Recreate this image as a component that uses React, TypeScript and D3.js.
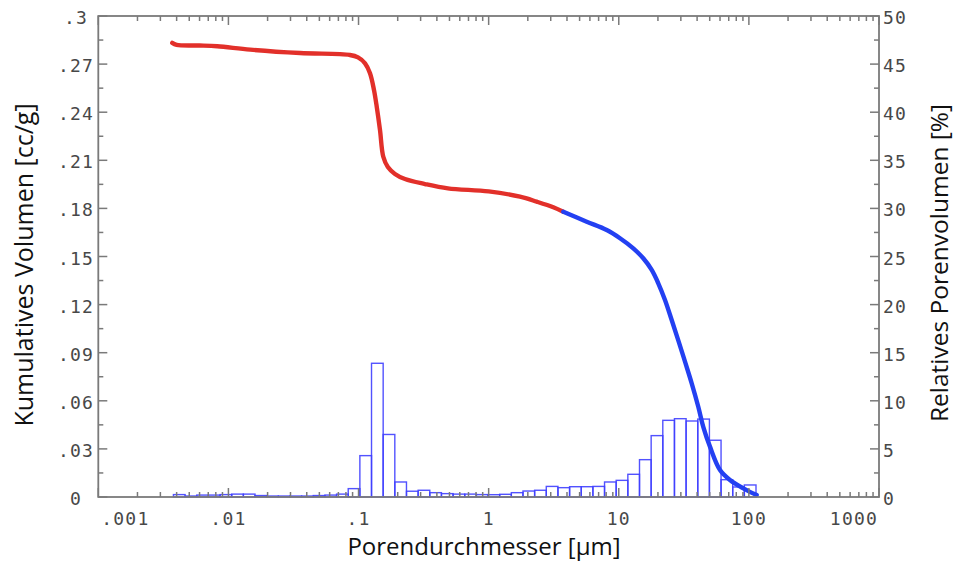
import React from "react";
import * as d3 from "d3";

// Cumulative intrusion curve (diameter µm, cumulative volume cc/g)
const redDiameter = [0.0037, 0.0040, 0.0060, 0.0082, 0.0147, 0.0355, 0.0859, 0.0991, 0.1122, 0.1225, 0.1315, 0.138, 0.1462, 0.155, 0.168, 0.1905, 0.2275, 0.3239, 0.486, 1.0, 1.741, 2.34, 3.14, 3.746];
const redVolume = [0.2832, 0.2820, 0.2816, 0.2811, 0.2790, 0.2769, 0.2757, 0.2742, 0.2705, 0.2643, 0.2538, 0.2434, 0.2289, 0.2122, 0.2058, 0.2015, 0.1983, 0.1952, 0.1925, 0.1906, 0.1873, 0.1842, 0.1807, 0.1779];
const blueDiameter = [3.746, 5.67, 8.08, 10.22, 12.93, 15.43, 17.91, 20.12, 22.66, 25.51, 28.67, 32.29, 36.35, 40.84, 44.61, 50.23, 59.97, 71.56, 90.6, 114.8];
const blueVolume = [0.1779, 0.1717, 0.1665, 0.1614, 0.1551, 0.1489, 0.1416, 0.1333, 0.1229, 0.1104, 0.0977, 0.0844, 0.0709, 0.0563, 0.0438, 0.0314, 0.0168, 0.0106, 0.0054, 0.0012];

// Histogram: bin centre diameters (µm) and relative pore volume (%)
const binDiameter = [
  0.00419, 0.00515, 0.00633, 0.00778, 0.00956, 0.01175, 0.01444, 0.01775, 0.02182, 0.02681,
  0.03295, 0.0405, 0.04977, 0.06115, 0.07516, 0.09238, 0.1135, 0.1395, 0.1714, 0.2107,
  0.2589, 0.3183, 0.3912, 0.4807, 0.5908, 0.7261, 0.8923, 1.0965, 1.3479, 1.6561,
  2.0354, 2.5016, 3.0737, 3.7784, 4.643, 5.7068, 7.0146, 8.6158, 10.593, 13.018,
  16.001, 19.665, 24.161, 29.703, 36.502, 44.864, 55.129, 67.735, 83.258, 102.31,
];
const binPercent = [
  0.25, 0.1, 0.2, 0.2, 0.25, 0.3, 0.3, 0.15, 0.1, 0.1,
  0.1, 0.1, 0.15, 0.2, 0.3, 0.87, 4.3, 13.9, 6.5, 1.56,
  0.6, 0.7, 0.45, 0.35, 0.3, 0.3, 0.25, 0.24, 0.28, 0.45,
  0.62, 0.7, 1.1, 0.97, 1.07, 1.07, 1.1, 1.56, 1.73, 2.36,
  3.88, 6.38, 7.97, 8.14, 7.9, 8.1, 5.9, 1.8, 1.04, 1.25,
];

const xTickValues = [0.001, 0.01, 0.1, 1, 10, 100, 1000];
const xTickLabels = [".001", ".01", ".1", "1", "10", "100", "1000"];
const leftTickValues = [0, 0.03, 0.06, 0.09, 0.12, 0.15, 0.18, 0.21, 0.24, 0.27, 0.3];
const leftTickLabels = ["0", ".03", ".06", ".09", ".12", ".15", ".18", ".21", ".24", ".27", ".3"];
const rightTickValues = [0, 5, 10, 15, 20, 25, 30, 35, 40, 45, 50];

const W = 957, H = 562;
const L = 98.3, R = 879, T = 16, B = 497;
const AX = "#7a7a7a";
const TXT = "#484848";
const MONO = "'DejaVu Sans Mono', monospace";
const SANS = "'Open Sans', 'Noto Sans', sans-serif";

export default function App() {
  const x = d3.scaleLog().domain([0.001, 1000]).range([L, R]);
  const yL = d3.scaleLinear().domain([0, 0.3]).range([B, T]);
  const yR = d3.scaleLinear().domain([0, 50]).range([B, T]);

  const line = d3
    .line<[number, number]>()
    .x((p) => x(p[0]))
    .y((p) => yL(p[1]))
    .curve(d3.curveCatmullRom.alpha(0.5));
  const redPts = redDiameter.map((d, i) => [d, redVolume[i]] as [number, number]);
  const bluePts = blueDiameter.map((d, i) => [d, blueVolume[i]] as [number, number]);

  // bar edges: geometric midpoints between neighbouring bin centres
  const logs = binDiameter.map((d) => Math.log10(d));
  const edges = logs.map((lg, i) => {
    const prev = i > 0 ? logs[i - 1] : lg - (logs[1] - logs[0]);
    return (lg + prev) / 2;
  });
  const lastEdge = logs[logs.length - 1] + (logs[logs.length - 1] - logs[logs.length - 2]) / 2;

  const minor: number[] = [];
  for (let e = -3; e < 3; e++) for (let m = 2; m <= 9; m++) minor.push(m * Math.pow(10, e));
  const yMinorL = d3.range(0.015, 0.3, 0.03);

  return (
    <svg width={W} height={H} style={{ position: "absolute", left: 0, top: 0, background: "#fff" }}>
      <rect x={0} y={0} width={W} height={H} fill="#fff" />
      {/* histogram */}
      <g>
        {binPercent.map((p, i) => {
          const x0 = x(Math.pow(10, edges[i]));
          const x1 = x(Math.pow(10, i < binPercent.length - 1 ? edges[i + 1] : lastEdge));
          return (
            <rect
              key={i}
              x={x0}
              y={yR(p)}
              width={x1 - x0}
              height={B - yR(p)}
              fill="none"
              stroke="#3f3fff"
              strokeOpacity={0.9}
              strokeWidth={1.4}
            />
          );
        })}
      </g>
      {/* curves */}
      <path d={line(redPts) ?? ""} fill="none" stroke="#e2302a" strokeWidth={4.4} strokeLinecap="round" strokeLinejoin="round" />
      <path d={line(bluePts) ?? ""} fill="none" stroke="#2340f2" strokeWidth={4.4} strokeLinecap="round" strokeLinejoin="round" />

      {/* frame */}
      <rect x={L} y={T} width={R - L} height={B - T} fill="none" stroke={AX} strokeWidth={1.8} />

      {/* x ticks (bottom and top) */}
      {xTickValues.map((v) => (
        <g key={"xt" + v}>
          <line x1={x(v)} x2={x(v)} y1={B} y2={B - 9} stroke={AX} strokeWidth={1.5} />
          <line x1={x(v)} x2={x(v)} y1={T} y2={T + 9} stroke={AX} strokeWidth={1.5} />
        </g>
      ))}
      {minor.map((v) => (
        <g key={"xm" + v}>
          <line x1={x(v)} x2={x(v)} y1={B} y2={B - 5} stroke={AX} strokeWidth={1.5} />
          <line x1={x(v)} x2={x(v)} y1={T} y2={T + 5} stroke={AX} strokeWidth={1.5} />
        </g>
      ))}
      {xTickValues.map((v, i) => {
        const first = i === 0;
        const last = i === xTickValues.length - 1;
        return (
          <text
            key={"xl" + v}
            x={first ? x(v) + 3 : last ? x(v) - 1 : x(v)}
            y={525}
            textAnchor={first ? "start" : last ? "end" : "middle"}
            fontFamily={MONO}
            fontSize={18}
            letterSpacing={1.2}
            fill={TXT}
          >
            {xTickLabels[i]}
          </text>
        );
      })}

      {/* left y ticks */}
      {leftTickValues.map((v, i) => (
        <g key={"yl" + v}>
          <line x1={L} x2={L + 9} y1={yL(v)} y2={yL(v)} stroke={AX} strokeWidth={1.5} />
          <text x={76} y={yL(v) + 8} textAnchor="middle" fontFamily={MONO} fontSize={18} letterSpacing={1.2} fill={TXT}>
            {leftTickLabels[i]}
          </text>
        </g>
      ))}
      {yMinorL.map((v) => (
        <line key={"ylm" + v} x1={L} x2={L + 5} y1={yL(v)} y2={yL(v)} stroke={AX} strokeWidth={1.5} />
      ))}

      {/* right y ticks */}
      {rightTickValues.map((v) => (
        <g key={"yr" + v}>
          <line x1={R} x2={R - 9} y1={yR(v)} y2={yR(v)} stroke={AX} strokeWidth={1.5} />
          <text x={883} y={yR(v) + 8} textAnchor="start" fontFamily={MONO} fontSize={18} letterSpacing={1.2} fill={TXT}>
            {String(v)}
          </text>
        </g>
      ))}
      {rightTickValues.slice(0, -1).map((v) => (
        <line key={"yrm" + v} x1={R} x2={R - 5} y1={yR(v + 2.5)} y2={yR(v + 2.5)} stroke={AX} strokeWidth={1.5} />
      ))}

      {/* axis titles */}
      <text x={484} y={555} textAnchor="middle" fontFamily={SANS} fontSize={24} fill="#111">
        Porendurchmesser [µm]
      </text>
      <text
        transform={`translate(33,${265}) rotate(-90)`}
        textAnchor="middle"
        fontFamily={SANS}
        fontSize={25}
        fill="#111"
      >
        Kumulatives Volumen [cc/g]
      </text>
      <text
        transform={`translate(948,${263}) rotate(-90)`}
        textAnchor="middle"
        fontFamily={SANS}
        fontSize={24.5}
        fill="#111"
      >
        Relatives Porenvolumen [%]
      </text>
    </svg>
  );
}
